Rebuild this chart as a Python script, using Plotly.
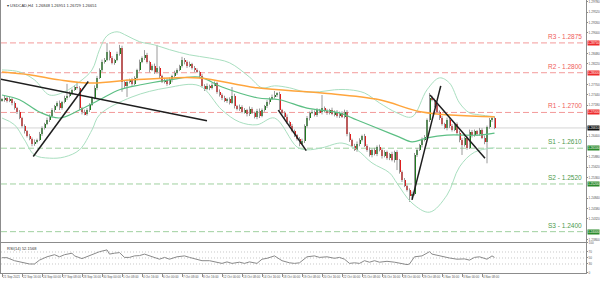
import plotly.graph_objects as go

# ---------------- data ----------------
first_open = 1.2730
closes = [
    1.2732, 1.2737, 1.2729, 1.2734, 1.2724, 1.2711, 1.2701, 1.2686, 1.2666, 1.2653,
    1.2641, 1.2633, 1.2621, 1.2626, 1.2631, 1.2646, 1.2661, 1.2671, 1.2681, 1.2691,
    1.2706, 1.2716, 1.2724, 1.2711, 1.2726, 1.2737, 1.2742, 1.2749, 1.2757, 1.2764,
    1.2762, 1.2711, 1.2701, 1.2696, 1.2706, 1.2719, 1.2737, 1.2762, 1.2787, 1.2807,
    1.2827, 1.2832, 1.2852, 1.2837, 1.2825, 1.2832, 1.2847, 1.2863, 1.2777, 1.2767,
    1.2777, 1.2782, 1.2772, 1.2787, 1.2807, 1.2827, 1.2837, 1.2845, 1.2827, 1.2807,
    1.2817, 1.2802, 1.2812, 1.2792, 1.2777, 1.2782, 1.2772, 1.2782, 1.2792, 1.2800,
    1.2807, 1.2817, 1.2832, 1.2827, 1.2817, 1.2822, 1.2812, 1.2807, 1.2802, 1.2792,
    1.2767, 1.2759, 1.2767, 1.2762, 1.2769, 1.2774, 1.2752, 1.2744, 1.2737, 1.2729,
    1.2734, 1.2724, 1.2742, 1.2716, 1.2709, 1.2714, 1.2701, 1.2706, 1.2696, 1.2709,
    1.2699, 1.2689, 1.2704, 1.2691, 1.2706, 1.2716, 1.2726, 1.2734, 1.2739, 1.2744,
    1.2747, 1.2706, 1.2699, 1.2689, 1.2676, 1.2666, 1.2653, 1.2643, 1.2633, 1.2621,
    1.2628, 1.2666, 1.2686, 1.2699, 1.2701, 1.2694, 1.2706, 1.2701, 1.2711, 1.2704,
    1.2699, 1.2706, 1.2696, 1.2701, 1.2691, 1.2699, 1.2689, 1.2701, 1.2646, 1.2631,
    1.2616, 1.2606, 1.2621, 1.2631, 1.2641, 1.2616, 1.2606, 1.2593, 1.2606, 1.2595,
    1.2613, 1.2606, 1.2590, 1.2600, 1.2585, 1.2595, 1.2580, 1.2600, 1.2580, 1.2550,
    1.2530, 1.2515, 1.2505, 1.2490, 1.2495, 1.2593, 1.2606, 1.2618, 1.2631, 1.2638,
    1.2681, 1.2737, 1.2732, 1.2719, 1.2701, 1.2686, 1.2671, 1.2661, 1.2681, 1.2666,
    1.2656, 1.2671, 1.2648, 1.2631, 1.2618, 1.2636, 1.2611, 1.2651, 1.2643, 1.2653,
    1.2646, 1.2656, 1.2636, 1.2626, 1.2663, 1.2681, 1.2686, 1.2661,
]
upper_wick_pips = [
    4, 6, 3, 5, 2, 4, 3, 5, 3, 4,
    3, 5, 4, 6, 3, 5, 4, 3, 6, 4,
    5, 3, 4, 6, 3, 5, 30, 4, 3, 5,
    13, 4, 3, 6, 5, 4, 3, 6, 5, 4,
    6, 5, 23, 4, 5, 3, 6, 7, 5, 4,
    6, 3, 5, 4, 3, 6, 4, 12, 5, 3,
    4, 6, 58, 4, 3, 5, 4, 6, 3, 5,
    4, 3, 8, 5, 4, 6, 3, 5, 4, 3,
    5, 4, 6, 3, 5, 4, 3, 6, 4, 5,
    3, 4, 22, 5, 3, 6, 4, 5, 3, 6,
    4, 3, 5, 6, 4, 3, 5, 4, 6, 10,
    4, 5, 3, 4, 6, 3, 5, 4, 3, 5,
    6, 4, 5, 3, 6, 4, 5, 3, 33, 4,
    5, 3, 6, 4, 5, 3, 4, 6, 5, 4,
    3, 5, 6, 4, 3, 5, 4, 6, 3, 5,
    4, 6, 3, 5, 4, 3, 6, 4, 5, 3,
    4, 5, 3, 4, 6, 5, 4, 3, 6, 5,
    4, 12, 5, 3, 6, 4, 5, 3, 6, 4,
    5, 3, 4, 6, 5, 3, 4, 6, 5, 4,
    3, 5, 4, 6, 4, 5, 3, 4,
]
lower_wick_pips = [
    3, 5, 4, 3, 6, 4, 5, 3, 4, 6,
    4, 3, 6, 5, 4, 3, 5, 4, 3, 5,
    4, 6, 3, 5, 4, 3, 6, 4, 5, 3,
    4, 5, 6, 3, 4, 5, 3, 4, 6, 3,
    5, 4, 3, 6, 4, 5, 3, 4, 25, 5,
    28, 4, 5, 3, 6, 4, 3, 5, 4, 6,
    3, 5, 4, 6, 3, 4, 5, 3, 6, 4,
    5, 3, 4, 6, 5, 3, 4, 5, 3, 6,
    4, 5, 3, 6, 4, 3, 5, 4, 6, 3,
    5, 4, 3, 6, 4, 5, 3, 4, 6, 5,
    3, 4, 6, 5, 3, 4, 5, 6, 3, 4,
    5, 3, 4, 6, 5, 4, 3, 5, 4, 6,
    3, 5, 4, 6, 3, 4, 5, 3, 6, 4,
    5, 4, 3, 6, 4, 5, 3, 4, 6, 5,
    4, 3, 5, 6, 4, 3, 5, 4, 6, 3,
    5, 4, 6, 3, 4, 5, 3, 6, 25, 4,
    5, 3, 4, 15, 6, 4, 5, 3, 6, 4,
    3, 5, 4, 6, 3, 5, 4, 3, 6, 5,
    4, 3, 5, 6, 25, 4, 5, 3, 6, 4,
    5, 4, 3, 6, 54, 4, 5, 3,
]

tick_bars = [0, 8, 16, 24, 32, 40, 48, 56, 64, 72, 80, 88, 96, 104, 112, 120,
             128, 136, 144, 152, 160, 168, 176, 184, 192]
tick_labels = ["21 Sep 2021", "22 Sep 16:00", "24 Sep 00:00", "27 Sep 08:00", "28 Sep 16:00",
               "30 Sep 00:00", "1 Oct 08:00", "4 Oct 16:00", "6 Oct 00:00", "7 Oct 08:00",
               "8 Oct 16:00", "12 Oct 00:00", "13 Oct 08:00", "14 Oct 16:00", "18 Oct 00:00",
               "19 Oct 08:00", "20 Oct 16:00", "22 Oct 00:00", "25 Oct 08:00", "26 Oct 16:00",
               "28 Oct 00:00", "29 Oct 08:00", "1 Nov 16:00", "3 Nov 00:00", "4 Nov 08:00"]

price_ticks = [1.2978, 1.2952, 1.2926, 1.2900, 1.2848, 1.2822, 1.2770,
               1.2744, 1.2718, 1.2640, 1.2588, 1.2562, 1.2536,
               1.2484, 1.2458, 1.2432, 1.2380]
price_tick_labels = ["1.29780", "1.29520", "1.29260", "1.29000", "1.28480",
                     "1.28220", "1.27700", "1.27440", "1.27180",
                     "1.26400", "1.25880", "1.25620", "1.25360",
                     "1.24840", "1.24580", "1.24320", "1.23800"]

bb_upper_bar = [0, 7, 13, 19, 25, 31, 36, 39, 42, 46, 50, 55, 61, 67, 75, 83, 91, 99,
                104, 109, 115, 121, 127, 133, 139, 145, 151, 158, 164, 170, 175, 179,
                183, 187, 191, 197]
bb_upper = [1.2807, 1.2802, 1.2782, 1.2744, 1.2752, 1.2777, 1.2807, 1.2858, 1.2893,
            1.2903, 1.2893, 1.2878, 1.2870, 1.2858, 1.2845, 1.2837, 1.2825, 1.2789,
            1.2762, 1.2767, 1.2762, 1.2752, 1.2752, 1.2757, 1.2757, 1.2749, 1.2724,
            1.2699, 1.2689, 1.2757, 1.2787, 1.2774, 1.2724, 1.2699, 1.2694, 1.2689]
bb_mid_bar = [0, 7, 15, 23, 31, 39, 47, 55, 67, 79, 88, 102, 111, 122, 135, 142, 155,
              159, 164, 170, 178, 191, 197]
bb_mid = [1.2744, 1.2732, 1.2701, 1.2686, 1.2706, 1.2732, 1.2757, 1.2769, 1.2782,
          1.2789, 1.2764, 1.2737, 1.2732, 1.2711, 1.2699, 1.2681, 1.2648, 1.2638,
          1.2626, 1.2636, 1.2643, 1.2643, 1.2648]
bb_lower_bar = [0, 5, 9, 13, 19, 25, 31, 36, 39, 52, 66, 79, 88, 95, 102, 109, 118,
                122, 128, 136, 142, 148, 155, 158, 164, 171, 178, 183, 189, 197]
bb_lower = [1.2686, 1.2669, 1.2631, 1.2593, 1.2585, 1.2588, 1.2606, 1.2656, 1.2694,
            1.2739, 1.2762, 1.2767, 1.2706, 1.2676, 1.2669, 1.2686, 1.2613, 1.2606,
            1.2611, 1.2623, 1.2606, 1.2573, 1.2548, 1.2522, 1.2472, 1.2449, 1.2492,
            1.2563, 1.2600, 1.2611]
ma_bar = [0, 11, 23, 36, 52, 67, 79, 102, 128, 151, 168, 197]
ma_vals = [1.2802, 1.2795, 1.2782, 1.2774, 1.2782, 1.2787, 1.2787, 1.2762, 1.2749,
           1.2732, 1.2701, 1.2689]

rsi_bar = [0, 2, 5, 9, 11, 13, 15, 18, 21, 23, 25, 28, 29, 32, 35, 37, 39, 42, 43, 45,
           47, 49, 51, 53, 55, 57, 60, 63, 65, 67, 70, 73, 75, 78, 80, 83, 86, 88, 90,
           92, 95, 97, 99, 102, 104, 106, 109, 111, 112, 115, 117, 119, 122, 125, 127,
           130, 133, 135, 137, 139, 141, 143, 145, 147, 149, 151, 154, 157, 159, 162,
           163, 165, 168, 171, 172, 174, 177, 179, 182, 185, 187, 189, 191, 194, 196, 197]
rsi_vals = [51, 51, 41, 32, 30, 30, 43, 54, 61, 54, 61, 66, 57, 48, 57, 63, 71, 77, 63,
            66, 68, 52, 52, 57, 58, 63, 54, 46, 52, 46, 54, 57, 52, 46, 41, 41, 37, 32,
            37, 32, 36, 32, 37, 32, 46, 49, 57, 46, 41, 34, 32, 34, 54, 57, 52, 54, 49,
            52, 46, 32, 34, 32, 41, 36, 41, 36, 39, 36, 32, 28, 30, 54, 57, 71, 63, 59,
            54, 50, 46, 47, 43, 52, 54, 46, 57, 52]
rsi_levels = [30, 50, 70]
rsi_ticks = [0, 30, 50, 70, 100]

resistance_names = ["R1", "R2", "R3"]
resistance_levels = [1.2700, 1.2800, 1.2875]
support_names = ["S1", "S2", "S3"]
support_levels = [1.2610, 1.2520, 1.2400]
last_price = 1.2661

trend_bars = [[-0.8, 82.0], [12.5, 34.5], [110.5, 121.7], [164.0, 175.5], [171.2, 193.2]]
trend_prices = [[1.2784, 1.2679], [1.2589, 1.2778], [1.2706, 1.2604],
                [1.2480, 1.2767], [1.2744, 1.2585]]

header_text = "▾ USDCAD,H4  1.26848 1.26951 1.26729 1.26651"
rsi_header = "RSI(14) 52.1568"

# ---------------- derived candle geometry ----------------
n = len(closes)
bars = list(range(n))
opens = [first_open] + closes[:-1]
highs = [max(o, c) + w * 0.0001 for o, c, w in zip(opens, closes, upper_wick_pips)]
lows = [min(o, c) - w * 0.0001 for o, c, w in zip(opens, closes, lower_wick_pips)]
body_base = [min(o, c) for o, c in zip(opens, closes)]
body_h = [max(abs(c - o), 0.00004) for o, c in zip(opens, closes)]
body_col = ["#1f7a1f" if c >= o else "#dd1f1f" for o, c in zip(opens, closes)]

wx, wy = [], []
for i in bars:
    wx += [i, i, None]
    wy += [lows[i], highs[i], None]

XR = [-0.4, 233.6]
YR = [1.2374, 1.2983]
FONT = "Liberation Sans, Arial, sans-serif"
SMALL = 3.1

fig = go.Figure()

# horizontal support / resistance
R_LINE, S_LINE = "#f39a9a", "#9fd09f"
for lv in resistance_levels:
    fig.add_shape(type="line", xref="x domain", yref="y", x0=0, x1=1, y0=lv, y1=lv,
                  line=dict(color=R_LINE, width=1, dash="6px,3px"), layer="below")
for lv in support_levels:
    fig.add_shape(type="line", xref="x domain", yref="y", x0=0, x1=1, y0=lv, y1=lv,
                  line=dict(color=S_LINE, width=1, dash="6px,3px"), layer="below")
fig.add_shape(type="line", xref="x domain", yref="y", x0=0, x1=1, y0=last_price, y1=last_price,
              line=dict(color="#d4d4d4", width=1), layer="below")

# candles
fig.add_trace(go.Scatter(x=wx, y=wy, mode="lines", line=dict(color="#9a9a9a", width=1),
                         xaxis="x", yaxis="y", hoverinfo="skip", showlegend=False))
fig.add_trace(go.Bar(x=bars, y=body_h, base=body_base, width=0.8,
                     marker=dict(color=body_col, line=dict(width=0)),
                     xaxis="x", yaxis="y", showlegend=False))

# indicators
fig.add_trace(go.Scatter(x=bb_upper_bar, y=bb_upper, mode="lines",
                         line=dict(color="#a9dfc0", width=1, shape="spline"),
                         xaxis="x", yaxis="y", showlegend=False))
fig.add_trace(go.Scatter(x=bb_lower_bar, y=bb_lower, mode="lines",
                         line=dict(color="#a9dfc0", width=1, shape="spline"),
                         xaxis="x", yaxis="y", showlegend=False))
fig.add_trace(go.Scatter(x=bb_mid_bar, y=bb_mid, mode="lines",
                         line=dict(color="#5cbf84", width=1.2, shape="spline"),
                         xaxis="x", yaxis="y", showlegend=False))
fig.add_trace(go.Scatter(x=ma_bar, y=ma_vals, mode="lines",
                         line=dict(color="#ffa53c", width=1.5, shape="spline"),
                         xaxis="x", yaxis="y", showlegend=False))

# trend lines
for bx, py in zip(trend_bars, trend_prices):
    fig.add_trace(go.Scatter(x=bx, y=py, mode="lines", line=dict(color="#1e1e1e", width=1.5),
                             xaxis="x", yaxis="y", showlegend=False))

# RSI
for lv in rsi_levels:
    fig.add_shape(type="line", xref="x2 domain", yref="y2", x0=0, x1=1, y0=lv, y1=lv,
                  line=dict(color="#c8c8c8", width=1, dash="1px,2px"), layer="below")
fig.add_trace(go.Scatter(x=rsi_bar, y=rsi_vals, mode="lines",
                         line=dict(color="#8a8a8a", width=1),
                         xaxis="x2", yaxis="y2", showlegend=False))

# labels for S/R
for nm, lv in zip(resistance_names, resistance_levels):
    fig.add_annotation(xref="x domain", yref="y", x=0.997, y=lv, xanchor="right", yanchor="bottom",
                       text=f"{nm} - {lv:.4f}", showarrow=False, yshift=1,
                       font=dict(family=FONT, size=6.5, color="#ef5b5b"))
    fig.add_annotation(xref="paper", yref="y", x=1, y=lv, xanchor="left", yanchor="middle",
                       text=f"{lv:.5f}", showarrow=False, bgcolor="#ee2a2a", borderpad=0,
                       xshift=0.5, font=dict(family=FONT, size=SMALL, color="white"))
for nm, lv in zip(support_names, support_levels):
    fig.add_annotation(xref="x domain", yref="y", x=0.997, y=lv, xanchor="right", yanchor="bottom",
                       text=f"{nm} - {lv:.4f}", showarrow=False, yshift=1,
                       font=dict(family=FONT, size=6.5, color="#4c9a4c"))
    fig.add_annotation(xref="paper", yref="y", x=1, y=lv, xanchor="left", yanchor="middle",
                       text=f"{lv:.5f}", showarrow=False, bgcolor="#2b8a2b", borderpad=0,
                       xshift=0.5, font=dict(family=FONT, size=SMALL, color="white"))
fig.add_annotation(xref="paper", yref="y", x=1, y=last_price, xanchor="left", yanchor="middle",
                   text=f"{last_price:.5f}", showarrow=False, bgcolor="#111111", borderpad=0,
                   xshift=0.5, font=dict(family=FONT, size=SMALL, color="white"))

fig.add_annotation(xref="paper", yref="paper", x=0.006, y=1, xanchor="left", yanchor="top",
                   text=header_text, showarrow=False, yshift=-1,
                   font=dict(family=FONT, size=4, color="#333333"))
fig.add_annotation(xref="paper", yref="paper", x=0.006, y=0.1099, xanchor="left", yanchor="top",
                   text=rsi_header, showarrow=False, yshift=-1,
                   font=dict(family=FONT, size=4, color="#333333"))

AX = dict(showgrid=False, zeroline=False, showline=True, mirror=True, linecolor="#8c8c8c",
          linewidth=1, automargin=False)
fig.update_layout(
    width=600, height=281,
    margin=dict(l=1, r=14, t=0, b=8),
    paper_bgcolor="white", plot_bgcolor="white",
    showlegend=False, bargap=0, barmode="overlay",
    font=dict(family=FONT, size=SMALL, color="#444444"),
    xaxis=dict(AX, domain=[0, 1], range=XR, anchor="y", showticklabels=False, ticks=""),
    yaxis=dict(AX, domain=[0.1136, 1], range=YR, side="right", anchor="x",
               tickvals=price_ticks, ticktext=price_tick_labels, ticks="outside", ticklen=1,
               tickcolor="#8c8c8c", tickfont=dict(size=SMALL, color="#555555")),
    xaxis2=dict(AX, domain=[0, 1], range=XR, anchor="y2", tickvals=tick_bars,
                ticktext=tick_labels, ticks="outside", ticklen=3, tickcolor="#8c8c8c",
                tickangle=0, ticklabelposition="outside right",
                tickfont=dict(size=3, color="#555555")),
    yaxis2=dict(AX, domain=[0, 0.1099], range=[0, 100], side="right", anchor="x2",
                tickvals=rsi_ticks, ticks="outside", ticklen=1, tickcolor="#8c8c8c",
                tickfont=dict(size=3, color="#555555")),
)

fig.write_html("out.html")
